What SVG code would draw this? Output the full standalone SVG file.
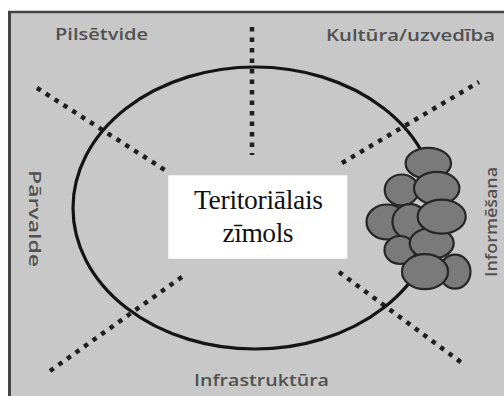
<svg xmlns="http://www.w3.org/2000/svg" width="504" height="396" viewBox="0 0 504 396">
  <style>
    .label { font-family: "Open Sans", "Liberation Sans", sans-serif; font-weight: 600; font-size: 16px; fill: #515151; }
    .title { font-family: "Liberation Serif", "Times New Roman", serif; font-size: 27.5px; fill: #111; text-anchor: middle; }
    .spoke { stroke: #1e1e1e; stroke-width: 4.5; stroke-dasharray: 4.5 6; fill: none; }
    .ring { fill: none; stroke: #141414; stroke-width: 3.2; }
    .bead { fill: #7a7a7a; stroke: #262626; stroke-width: 2.2; }
  </style>

  <!-- page and framed panel -->
  <g id="panel">
    <rect x="0" y="0" width="504" height="396" fill="#ffffff"/>
    <rect x="10" y="12.5" width="494" height="383.5" fill="#c8c8c8"/>
    <line x1="8" y1="12" x2="504" y2="12" stroke="#444" stroke-width="2.5"/>
    <line x1="9.5" y1="11" x2="9.5" y2="396" stroke="#444" stroke-width="3"/>
  </g>

  <!-- dotted spokes -->
  <g id="connectors">
    <line class="spoke" x1="252" y1="27" x2="252" y2="155"/>
    <line class="spoke" x1="37" y1="88" x2="168" y2="172"/>
    <line class="spoke" x1="342" y1="163" x2="479" y2="82"/>
    <line class="spoke" x1="50" y1="371" x2="186" y2="274"/>
    <line class="spoke" x1="339" y1="272" x2="462" y2="363"/>
  </g>

  <!-- outer ring -->
  <g id="ring">
    <ellipse class="ring" cx="255" cy="208" rx="182" ry="141"/>
  </g>

  <!-- centre label box -->
  <g id="brand">
    <rect x="168.3" y="175.3" width="179" height="83.4" fill="#ffffff"/>
    <text class="title" x="258.5" y="209" textLength="129">Teritoriālais</text>
    <text class="title" x="258" y="242" textLength="71">zīmols</text>
  </g>

  <!-- bead cluster on the right of the ring -->
  <g id="cluster">
    <ellipse class="bead" cx="401.7" cy="190" rx="17" ry="15.5"/>
    <ellipse class="bead" cx="428.3" cy="163.3" rx="22.7" ry="15.5"/>
    <ellipse class="bead" cx="436.7" cy="188.3" rx="22.7" ry="16.5"/>
    <ellipse class="bead" cx="387" cy="222" rx="20.5" ry="17.5"/>
    <ellipse class="bead" cx="410" cy="221.7" rx="17.5" ry="17.5"/>
    <ellipse class="bead" cx="400" cy="250" rx="15.5" ry="14"/>
    <ellipse class="bead" cx="431.7" cy="243.3" rx="22" ry="15.5"/>
    <ellipse class="bead" cx="441.7" cy="216.7" rx="24" ry="17"/>
    <ellipse class="bead" cx="455" cy="271.7" rx="15.5" ry="17"/>
    <ellipse class="bead" cx="425" cy="271.7" rx="23" ry="17.5"/>
  </g>

  <!-- sector labels -->
  <g id="label-pilsetvide">
    <text class="label" x="55" y="39.5" textLength="93" lengthAdjust="spacingAndGlyphs">Pilsētvide</text>
  </g>
  <g id="label-kultura">
    <text class="label" x="326" y="40.5" textLength="169" lengthAdjust="spacingAndGlyphs">Kultūra/uzvedība</text>
  </g>
  <g id="label-parvalde">
    <text class="label" transform="translate(29,170) rotate(90)" x="0" y="0" textLength="97" lengthAdjust="spacingAndGlyphs">Pārvalde</text>
  </g>
  <g id="label-informesana">
    <text class="label" transform="translate(497,277) rotate(-90)" x="0" y="0" textLength="110" lengthAdjust="spacingAndGlyphs">Informēšana</text>
  </g>
  <g id="label-infrastruktura">
    <text class="label" x="194" y="386" textLength="135" lengthAdjust="spacingAndGlyphs">Infrastruktūra</text>
  </g>
</svg>
